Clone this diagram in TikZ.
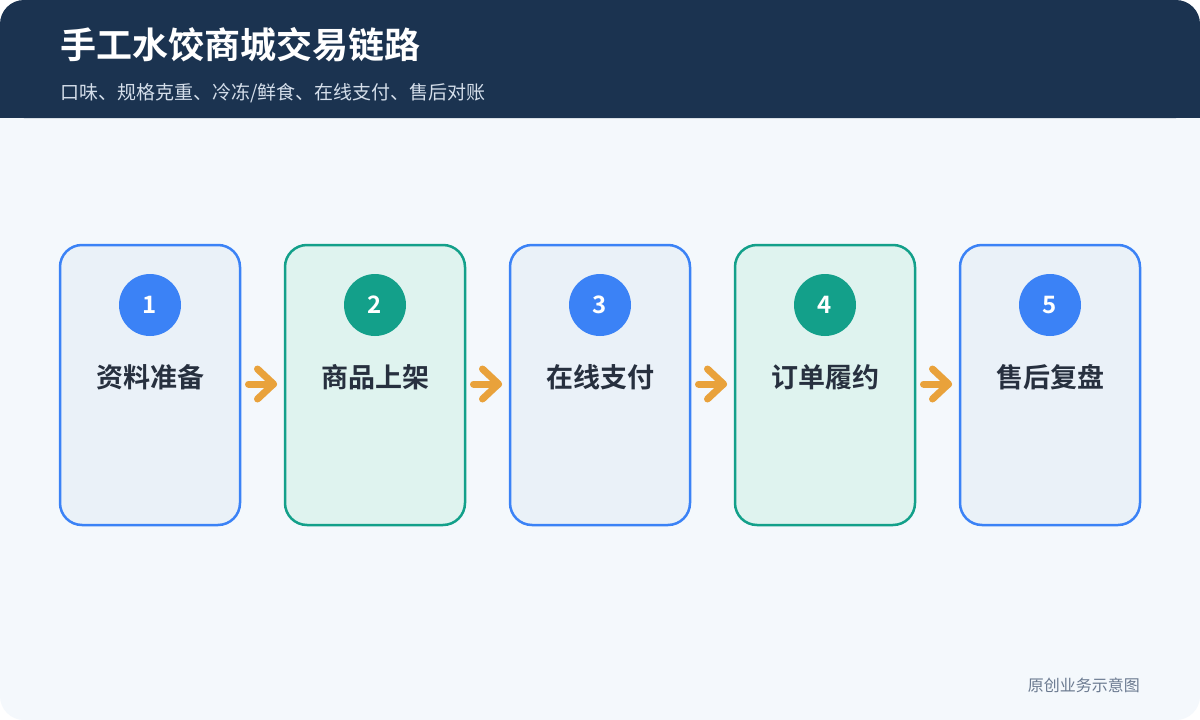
\documentclass[tikz,border=0pt]{standalone}
\usepackage{fontspec}
\usetikzlibrary{calc}
\newfontfamily\cjk{Noto Sans CJK SC}
\newfontfamily\cjkb{Noto Sans CJK SC Bold}
\definecolor{navy}{HTML}{1B3350}
\definecolor{pagebg}{HTML}{F4F8FC}
\definecolor{bluebd}{HTML}{3B82F6}
\definecolor{bluefill}{HTML}{EAF1F8}
\definecolor{greenbd}{HTML}{13A08A}
\definecolor{greenfill}{HTML}{DFF3EF}
\definecolor{arrowc}{HTML}{E9A23B}
\definecolor{textdark}{HTML}{27303F}
\definecolor{subc}{HTML}{D4DEEA}
\definecolor{footc}{HTML}{6B7A90}
\tikzset{
  x=1pt, y=-1pt,
  stepcard/.style={draw=#1bd, fill=#1fill, line width=2.5pt, rounded corners=22pt},
  numdot/.style={circle, fill=#1bd, minimum size=62pt, inner sep=0pt, text=white, font=\cjkb\fontsize{24}{26}\selectfont},
  steplabel/.style={text=textdark, font=\cjkb\fontsize{27}{30}\selectfont, inner sep=0pt},
  flowarrow/.style={draw=arrowc, line width=7pt, line cap=round, line join=round}
}
\begin{document}
\begin{tikzpicture}
\useasboundingbox (0,0) rectangle (1200,720);
\fill[white] (0,0) rectangle (1200,720);
\fill[pagebg, rounded corners=24pt] (0,0) rectangle (1200,720);
\fill[navy, rounded corners=24pt] (0,0) rectangle (1200,118);
\fill[navy] (0,60) rectangle (1200,118);
\node[anchor=west, text=white, font=\cjkb\fontsize{36}{40}\selectfont, inner sep=0pt] (title) at (60,45) {手工水饺商城交易链路};
\node[anchor=west, text=subc, font=\cjk\fontsize{19}{22}\selectfont, inner sep=0pt] (sub) at (60,93) {口味、规格克重、冷冻/鲜食、在线支付、售后对账};
\foreach \i/\c/\t in {1/blue/资料准备, 2/green/商品上架, 3/blue/在线支付, 4/green/订单履约, 5/blue/售后复盘}{
  \pgfmathsetmacro{\xl}{60+(\i-1)*225}
  \draw[stepcard=\c] (\xl,245) rectangle ++(180,280);
  \node[numdot=\c] (n\i) at (\xl+90,305) {\i};
  \node[steplabel] (s\i) at (\xl+90,377) {\t};
}
\foreach \i in {1,2,3,4}{
  \pgfmathsetmacro{\xa}{248.5+(\i-1)*225}
  \coordinate (a\i) at (\xa,384);
  \coordinate (b\i) at (\xa+25,384);
  \draw[flowarrow] (a\i) -- (b\i);
  \draw[flowarrow] ($(b\i)+(-16,-15)$) -- (b\i) -- ($(b\i)+(-16,15)$);
}
\node[anchor=east, text=footc, font=\cjk\fontsize{16}{18}\selectfont, inner sep=0pt] (foot) at (1140,685) {原创业务示意图};
\end{tikzpicture}
\end{document}
